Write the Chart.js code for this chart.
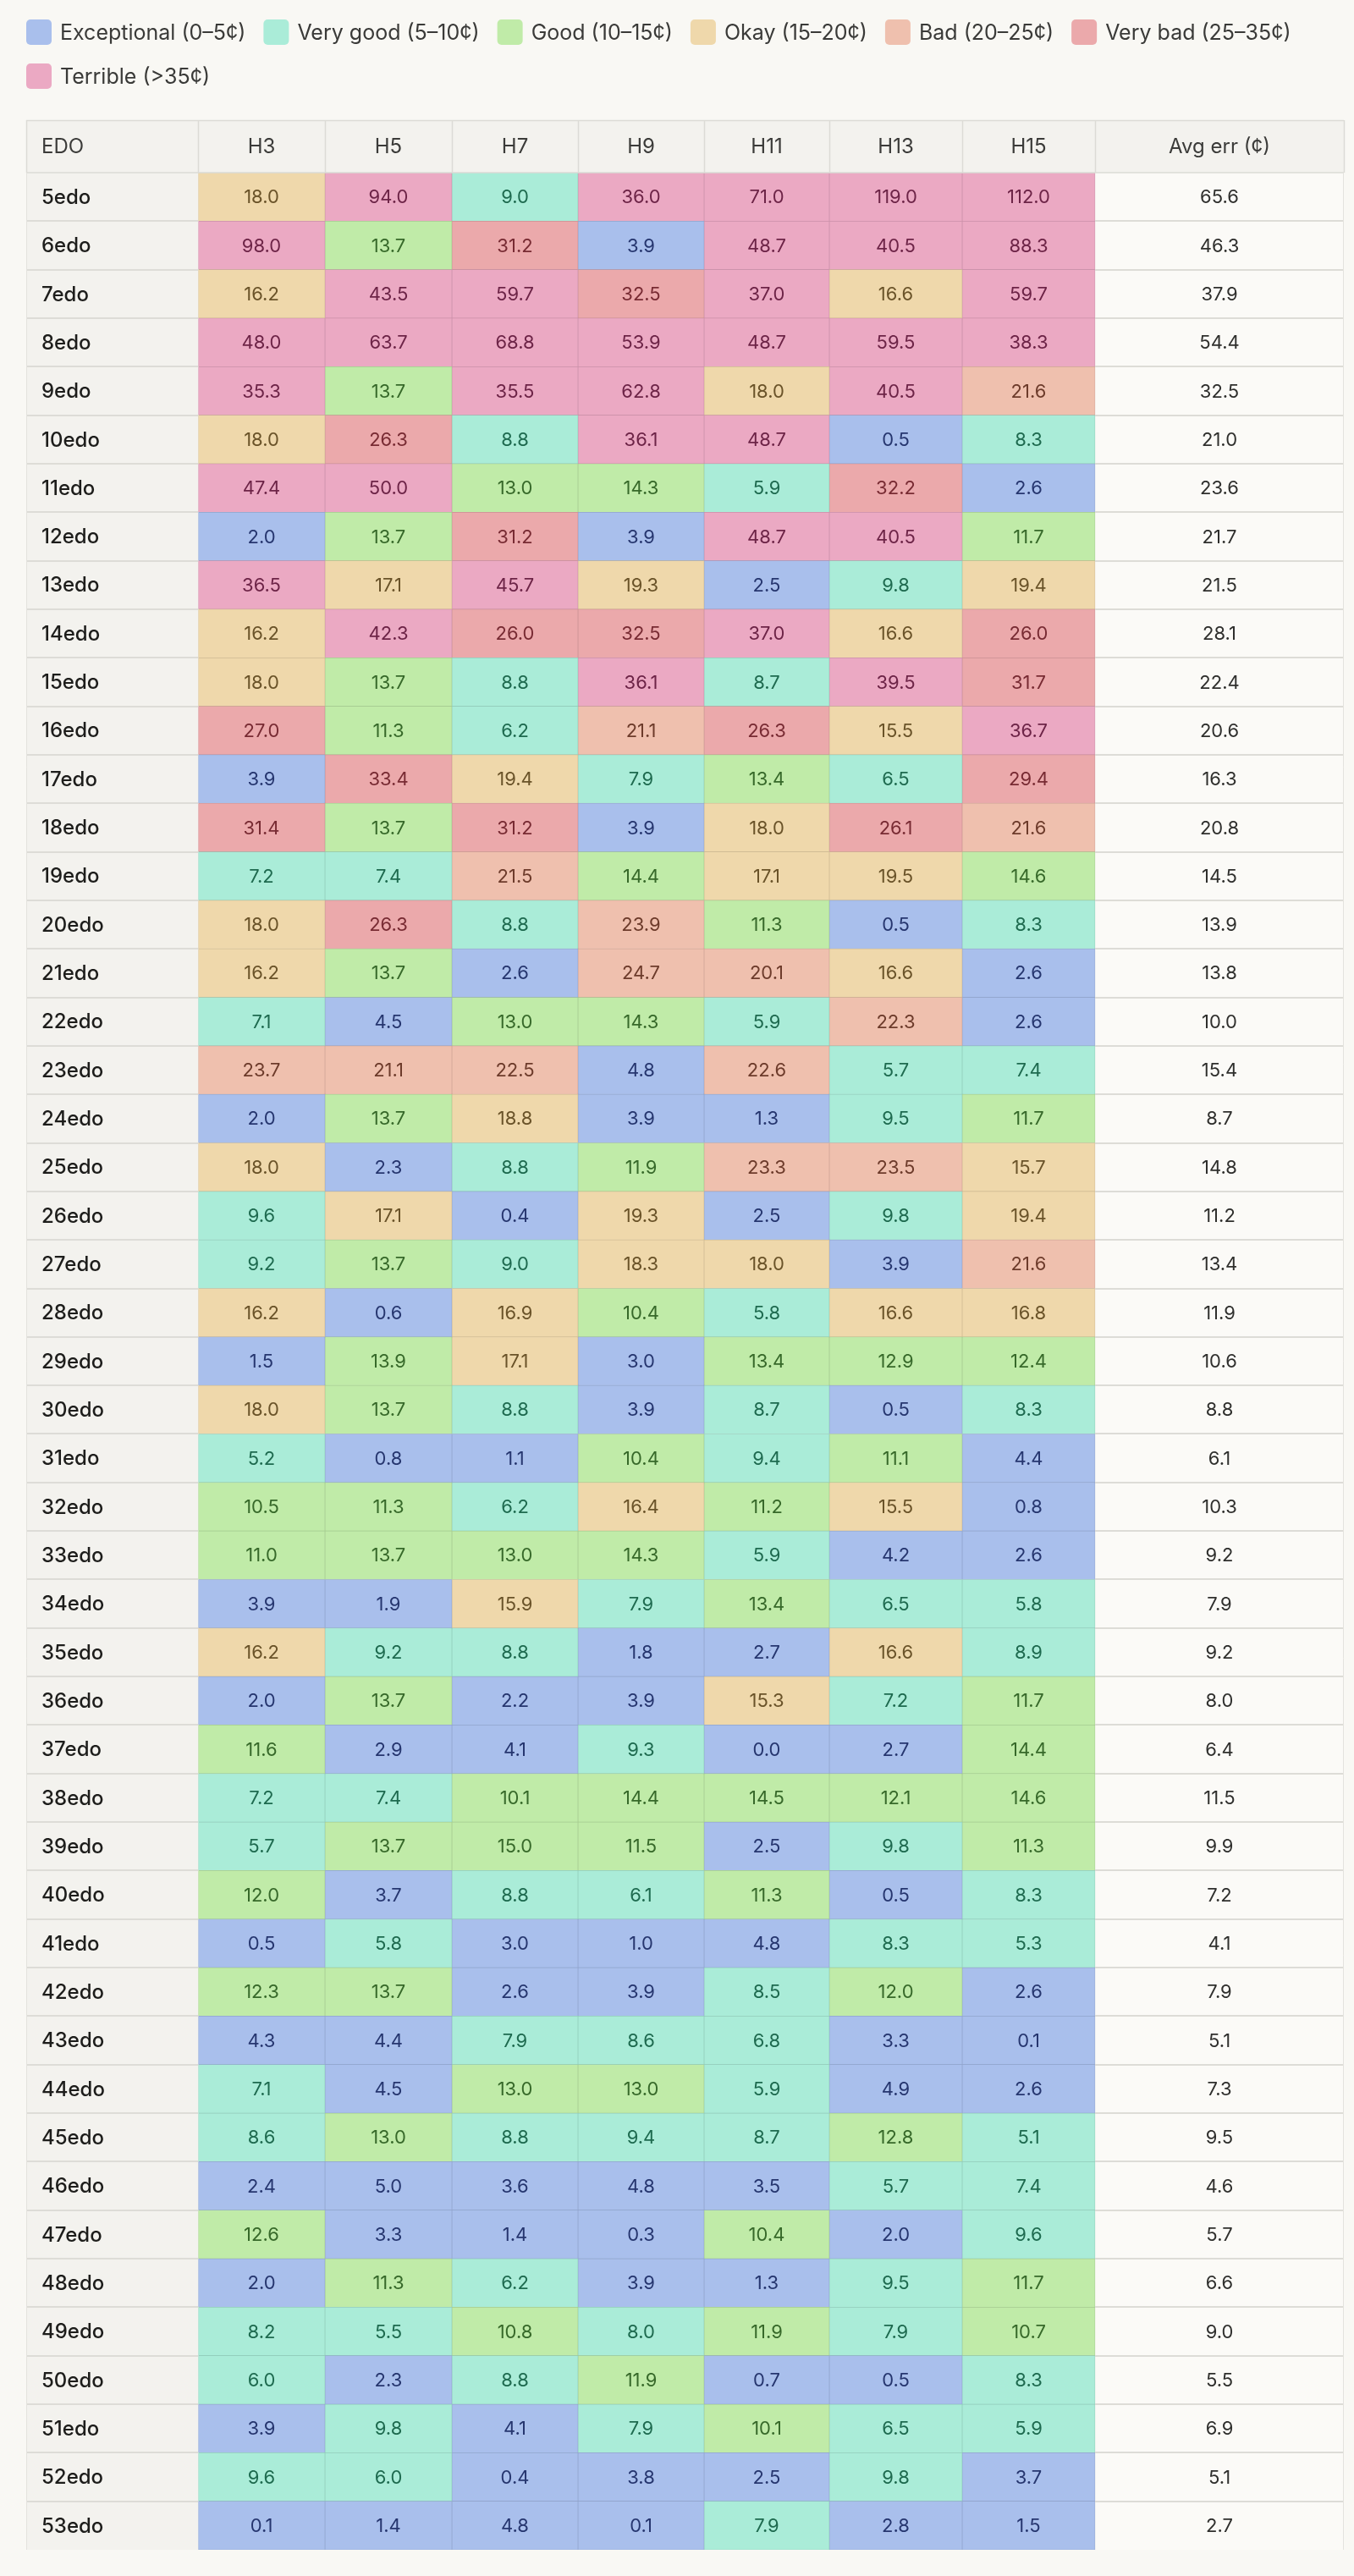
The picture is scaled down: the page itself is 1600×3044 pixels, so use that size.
<!DOCTYPE html>
<html>
<head>
<meta charset="utf-8">
<title>EDO harmonic error</title>
<script src="https://cdn.jsdelivr.net/npm/chart.js@4.4.1/dist/chart.umd.min.js"></script>
<style>
  html, body { margin: 0; padding: 0; background: #f9f8f4; }
  #wrap { width: 1600px; height: 3044px; position: relative; }
</style>
</head>
<body>
<div id="wrap"><canvas id="edoChart"></canvas></div>
<script>
// rows
const edoLabels = [
    '5edo', '6edo', '7edo', '8edo', '9edo', '10edo', '11edo', '12edo', '13edo', '14edo',
    '15edo', '16edo', '17edo', '18edo', '19edo', '20edo', '21edo', '22edo', '23edo', '24edo',
    '25edo', '26edo', '27edo', '28edo', '29edo', '30edo', '31edo', '32edo', '33edo', '34edo',
    '35edo', '36edo', '37edo', '38edo', '39edo', '40edo', '41edo', '42edo', '43edo', '44edo',
    '45edo', '46edo', '47edo', '48edo', '49edo', '50edo', '51edo', '52edo', '53edo'
];

// columns
const harmonicLabels = ['H3', 'H5', 'H7', 'H9', 'H11', 'H13', 'H15'];

// error in cents per harmonic
const h3 = [18.0, 98.0, 16.2, 48.0, 35.3, 18.0, 47.4, 2.0, 36.5, 16.2,
    18.0, 27.0, 3.9, 31.4, 7.2, 18.0, 16.2, 7.1, 23.7, 2.0,
    18.0, 9.6, 9.2, 16.2, 1.5, 18.0, 5.2, 10.5, 11.0, 3.9,
    16.2, 2.0, 11.6, 7.2, 5.7, 12.0, 0.5, 12.3, 4.3, 7.1,
    8.6, 2.4, 12.6, 2.0, 8.2, 6.0, 3.9, 9.6, 0.1];
const h5 = [94.0, 13.7, 43.5, 63.7, 13.7, 26.3, 50.0, 13.7, 17.1, 42.3,
    13.7, 11.3, 33.4, 13.7, 7.4, 26.3, 13.7, 4.5, 21.1, 13.7,
    2.3, 17.1, 13.7, 0.6, 13.9, 13.7, 0.8, 11.3, 13.7, 1.9,
    9.2, 13.7, 2.9, 7.4, 13.7, 3.7, 5.8, 13.7, 4.4, 4.5,
    13.0, 5.0, 3.3, 11.3, 5.5, 2.3, 9.8, 6.0, 1.4];
const h7 = [9.0, 31.2, 59.7, 68.8, 35.5, 8.8, 13.0, 31.2, 45.7, 26.0,
    8.8, 6.2, 19.4, 31.2, 21.5, 8.8, 2.6, 13.0, 22.5, 18.8,
    8.8, 0.4, 9.0, 16.9, 17.1, 8.8, 1.1, 6.2, 13.0, 15.9,
    8.8, 2.2, 4.1, 10.1, 15.0, 8.8, 3.0, 2.6, 7.9, 13.0,
    8.8, 3.6, 1.4, 6.2, 10.8, 8.8, 4.1, 0.4, 4.8];
const h9 = [36.0, 3.9, 32.5, 53.9, 62.8, 36.1, 14.3, 3.9, 19.3, 32.5,
    36.1, 21.1, 7.9, 3.9, 14.4, 23.9, 24.7, 14.3, 4.8, 3.9,
    11.9, 19.3, 18.3, 10.4, 3.0, 3.9, 10.4, 16.4, 14.3, 7.9,
    1.8, 3.9, 9.3, 14.4, 11.5, 6.1, 1.0, 3.9, 8.6, 13.0,
    9.4, 4.8, 0.3, 3.9, 8.0, 11.9, 7.9, 3.8, 0.1];
const h11 = [71.0, 48.7, 37.0, 48.7, 18.0, 48.7, 5.9, 48.7, 2.5, 37.0,
    8.7, 26.3, 13.4, 18.0, 17.1, 11.3, 20.1, 5.9, 22.6, 1.3,
    23.3, 2.5, 18.0, 5.8, 13.4, 8.7, 9.4, 11.2, 5.9, 13.4,
    2.7, 15.3, 0.0, 14.5, 2.5, 11.3, 4.8, 8.5, 6.8, 5.9,
    8.7, 3.5, 10.4, 1.3, 11.9, 0.7, 10.1, 2.5, 7.9];
const h13 = [119.0, 40.5, 16.6, 59.5, 40.5, 0.5, 32.2, 40.5, 9.8, 16.6,
    39.5, 15.5, 6.5, 26.1, 19.5, 0.5, 16.6, 22.3, 5.7, 9.5,
    23.5, 9.8, 3.9, 16.6, 12.9, 0.5, 11.1, 15.5, 4.2, 6.5,
    16.6, 7.2, 2.7, 12.1, 9.8, 0.5, 8.3, 12.0, 3.3, 4.9,
    12.8, 5.7, 2.0, 9.5, 7.9, 0.5, 6.5, 9.8, 2.8];
const h15 = [112.0, 88.3, 59.7, 38.3, 21.6, 8.3, 2.6, 11.7, 19.4, 26.0,
    31.7, 36.7, 29.4, 21.6, 14.6, 8.3, 2.6, 2.6, 7.4, 11.7,
    15.7, 19.4, 21.6, 16.8, 12.4, 8.3, 4.4, 0.8, 2.6, 5.8,
    8.9, 11.7, 14.4, 14.6, 11.3, 8.3, 5.3, 2.6, 0.1, 2.6,
    5.1, 7.4, 9.6, 11.7, 10.7, 8.3, 5.9, 3.7, 1.5];
const avgErr = [65.6, 46.3, 37.9, 54.4, 32.5, 21.0, 23.6, 21.7, 21.5, 28.1,
    22.4, 20.6, 16.3, 20.8, 14.5, 13.9, 13.8, 10.0, 15.4, 8.7,
    14.8, 11.2, 13.4, 11.9, 10.6, 8.8, 6.1, 10.3, 9.2, 7.9,
    9.2, 8.0, 6.4, 11.5, 9.9, 7.2, 4.1, 7.9, 5.1, 7.3,
    9.5, 4.6, 5.7, 6.6, 9.0, 5.5, 6.9, 5.1, 2.7];

const harmonicSeries = [h3, h5, h7, h9, h11, h13, h15];

// rating bands
const bandNames = ['Exceptional (0–5¢)', 'Very good (5–10¢)', 'Good (10–15¢)', 'Okay (15–20¢)',
    'Bad (20–25¢)', 'Very bad (25–35¢)', 'Terrible (>35¢)'];
const bandLimits = [5, 10, 15, 20, 25, 35, Infinity];

const bandColors = ['#a9bfec', '#aaecd8', '#c0eba8', '#efd8ab', '#efc0ae', '#eba9ab', '#eba9c3'];
const bandTextColors = ['#26366f', '#1e6a4f', '#37692a', '#6a5329', '#6d3b2b', '#782b33', '#6d2447'];

// column layout (x units across table)
const colEdges = [0, 203, 353, 503, 652, 801, 949, 1106, 1263, 1557];

const FONT = 'Inter, "Noto Sans", sans-serif';

function bandOf(v) {
    for (let i = 0; i < bandLimits.length; i++) {
        if (v <= bandLimits[i]) return i;
    }
    return bandLimits.length - 1;
}

// slightly darker edge for the cell borders
function darken(hex, f) {
    const n = parseInt(hex.slice(1), 16);
    const r = Math.round(((n >> 16) & 255) * f);
    const g = Math.round(((n >> 8) & 255) * f);
    const b = Math.round((n & 255) * f);
    return `rgb(${r}, ${g}, ${b})`;
}

function spanData(col) {
    return edoLabels.map(() => [colEdges[col], colEdges[col + 1]]);
}

const datasets = [];

// EDO name column
datasets.push({
    label: 'EDO',
    data: spanData(0),
    backgroundColor: '#f3f2ee',
    borderWidth: 0
});

harmonicSeries.forEach((series, i) => {
    datasets.push({
        label: harmonicLabels[i],
        data: spanData(i + 1),
        values: series,
        backgroundColor: (c) => bandColors[bandOf(series[c.dataIndex])],
        borderColor: (c) => darken(bandColors[bandOf(series[c.dataIndex])], 0.86),
        borderWidth: 0.7,
        borderSkipped: false
    });
});

// average column
datasets.push({
    label: 'Avg err (¢)',
    data: spanData(8),
    values: avgErr,
    backgroundColor: '#fbfaf7',
    borderWidth: 0
});

const tablePlugin = {
    id: 'tablePlugin',
    afterDatasetsDraw(chart) {
        const { ctx, scales: { x, y } } = chart;
        const left = x.getPixelForValue(colEdges[0]);
        const right = x.getPixelForValue(colEdges[colEdges.length - 1]);
        const rowH = Math.abs(y.getPixelForValue(1) - y.getPixelForValue(0));
        const top = y.getPixelForValue(0) - rowH / 2;
        const bottom = y.getPixelForValue(edoLabels.length - 1) + rowH / 2;

        ctx.save();

        // row separators over the plain columns
        ctx.strokeStyle = '#dddcd7';
        ctx.lineWidth = 2;
        for (let i = 1; i < edoLabels.length; i++) {
            const yy = Math.round(y.getPixelForValue(i) - rowH / 2);
            ctx.beginPath();
            ctx.moveTo(left, yy);
            ctx.lineTo(x.getPixelForValue(colEdges[1]), yy);
            ctx.moveTo(x.getPixelForValue(colEdges[8]), yy);
            ctx.lineTo(right, yy);
            ctx.stroke();
        }

        // header row
        const headH = 62;
        const headTop = top - headH;
        ctx.fillStyle = '#f3f2ee';
        ctx.fillRect(left, headTop, right - left, headH);
        ctx.strokeStyle = '#dcdbd6';
        ctx.lineWidth = 1.5;
        ctx.beginPath();
        ctx.moveTo(left, headTop + 0.5);
        ctx.lineTo(right, headTop + 0.5);
        ctx.moveTo(left, top);
        ctx.lineTo(right, top);
        colEdges.forEach((e) => {
            const xx = Math.round(x.getPixelForValue(e)) + 0.5;
            ctx.moveTo(xx, headTop);
            ctx.lineTo(xx, top);
        });
        ctx.stroke();

        // outer side edges of the table
        ctx.strokeStyle = '#e4e3de';
        ctx.lineWidth = 1;
        ctx.beginPath();
        ctx.moveTo(Math.round(left) + 0.5, top);
        ctx.lineTo(Math.round(left) + 0.5, bottom);
        ctx.moveTo(Math.round(right) - 0.5, top);
        ctx.lineTo(Math.round(right) - 0.5, bottom);
        ctx.stroke();

        ctx.textBaseline = 'middle';
        ctx.fillStyle = '#3b3b39';
        ctx.font = '400 24px ' + FONT;
        const headY = headTop + headH / 2 + 1;
        ctx.textAlign = 'left';
        ctx.fillText('EDO', left + 18, headY);
        ctx.textAlign = 'center';
        harmonicLabels.forEach((h, i) => {
            const cx = (x.getPixelForValue(colEdges[i + 1]) + x.getPixelForValue(colEdges[i + 2])) / 2;
            ctx.fillText(h, cx, headY);
        });
        ctx.fillText('Avg err (¢)', (x.getPixelForValue(colEdges[8]) + right) / 2, headY);

        // EDO names
        ctx.textAlign = 'left';
        ctx.font = '500 24px ' + FONT;
        ctx.fillStyle = '#1d1d1b';
        edoLabels.forEach((lab, j) => {
            ctx.fillText(lab, left + 18, y.getPixelForValue(j) + 1);
        });

        // cell values
        ctx.textAlign = 'center';
        ctx.font = '400 22px ' + FONT;
        chart.data.datasets.forEach((ds, di) => {
            if (!ds.values) return;
            const meta = chart.getDatasetMeta(di);
            meta.data.forEach((el, j) => {
                const p = el.getProps(['x', 'y', 'base'], true);
                const v = ds.values[j];
                ctx.fillStyle = di <= 7 ? bandTextColors[bandOf(v)] : '#2f2f2d';
                ctx.fillText(v.toFixed(1), (p.x + p.base) / 2, p.y + 1);
            });
        });

        ctx.restore();
    },
    afterDraw(chart) {
        // rating legend, wrapping like a flex row
        const { ctx } = chart;
        const startX = 31, maxX = 1588;
        let cx = startX, cy = 38;
        ctx.save();
        ctx.font = '400 25px ' + FONT;
        ctx.textBaseline = 'middle';
        ctx.textAlign = 'left';
        bandNames.forEach((name, i) => {
            const w = 30 + 10 + ctx.measureText(name).width;
            if (cx + w > maxX) {
                cx = startX;
                cy += 52;
            }
            ctx.fillStyle = bandColors[i];
            ctx.beginPath();
            ctx.roundRect(cx, cy - 15, 30, 30, 5);
            ctx.fill();
            ctx.fillStyle = '#3a3a38';
            ctx.fillText(name, cx + 40, cy + 1);
            cx += w + 21;
        });
        ctx.restore();
    }
};

const chart = new Chart(document.getElementById('edoChart').getContext('2d'), {
    type: 'bar',
    data: {
        labels: edoLabels,
        datasets: datasets
    },
    options: {
        indexAxis: 'y',
        responsive: true,
        maintainAspectRatio: false,
        animation: false,
        events: [],
        layout: {
            padding: { left: 31, right: 12, top: 204, bottom: 31 }
        },
        datasets: {
            bar: {
                grouped: false,
                barPercentage: 1,
                categoryPercentage: 1
            }
        },
        plugins: {
            legend: { display: false },
            tooltip: { enabled: false }
        },
        scales: {
            x: {
                type: 'linear',
                min: colEdges[0],
                max: colEdges[colEdges.length - 1],
                display: false
            },
            y: {
                type: 'category',
                display: false
            }
        }
    },
    plugins: [tablePlugin]
});
</script>
</body>
</html>
